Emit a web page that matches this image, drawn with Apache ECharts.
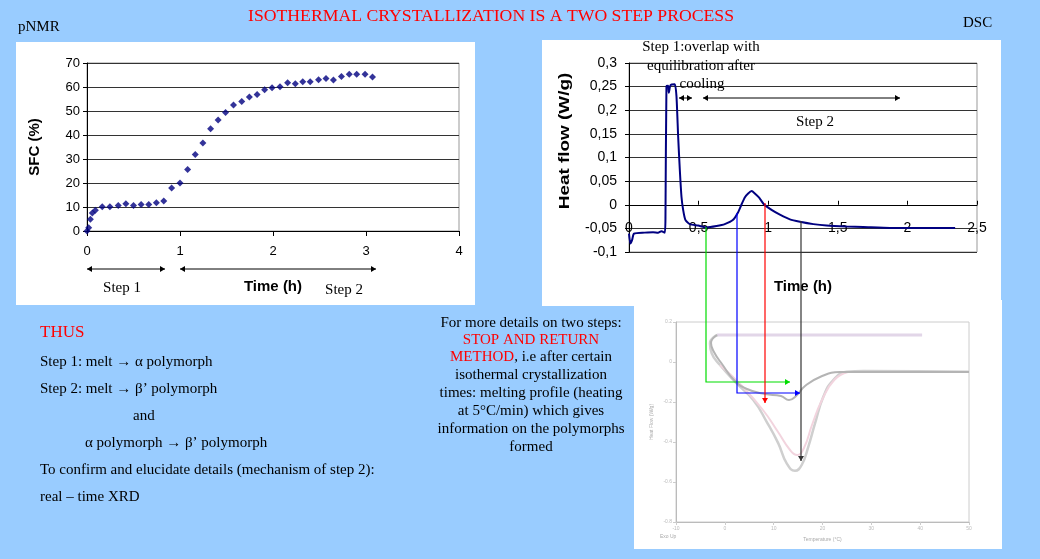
<!DOCTYPE html>
<html>
<head>
<meta charset="utf-8">
<script src="https://cdn.jsdelivr.net/npm/echarts@6/dist/echarts.min.js"></script>
<style>
  html, body { margin: 0; padding: 0; background: #99ccff; }
  #main { width: 1040px; height: 559px; }
</style>
</head>
<body>
<div id="main"></div>
<script>
// pNMR: solid fat content vs time
const sfcTime = [0, 0.018, 0.036, 0.057, 0.09, 0.164, 0.246, 0.336, 0.418, 0.5, 0.582, 0.664, 0.746, 0.825,
    0.91, 1.0, 1.082, 1.164, 1.246, 1.329, 1.41, 1.49, 1.575, 1.664, 1.746, 1.829, 1.91, 1.99, 2.075,
    2.157, 2.24, 2.32, 2.40, 2.49, 2.57, 2.65, 2.736, 2.82, 2.9, 2.99, 3.07];
const sfcValue = [0, 1.4, 4.9, 7.5, 8.6, 10.1, 10.1, 10.6, 11.4, 10.6, 11, 11, 11.8, 12.5,
    17.9, 20, 25.6, 31.9, 36.7, 42.6, 46.3, 49.4, 52.5, 54, 55.8, 56.9, 58.9, 59.7, 60.1,
    61.8, 61.4, 62.2, 62.2, 63, 63.5, 62.9, 64.4, 65.3, 65.3, 65.3, 64.2];

// DSC isothermal: heat flow vs time
const dscTime = [0, 0.01, 0.022, 0.036, 0.113, 0.173, 0.209, 0.233, 0.257, 0.262, 0.269, 0.281, 0.286, 0.298,
    0.329, 0.341, 0.353, 0.365, 0.377, 0.389, 0.405, 0.437, 0.497, 0.557, 0.629, 0.688, 0.748, 0.784,
    0.809, 0.833, 0.856, 0.881, 0.904, 0.935, 0.969, 1.024, 1.084, 1.156, 1.228, 1.324, 1.42, 1.564,
    1.683, 1.875, 2.115, 2.343];
const dscHeat = [-0.061, -0.082, -0.075, -0.061, -0.059, -0.058, -0.059, -0.056, -0.059, -0.025, 0.251, 0.252, 0.237, 0.253,
    0.255, 0.23, 0.145, 0.074, 0.017, -0.011, -0.032, -0.041, -0.044, -0.048, -0.045, -0.041, -0.032, -0.016,
    0.001, 0.016, 0.024, 0.029, 0.024, 0.015, 0.001, -0.011, -0.021, -0.031, -0.036, -0.041, -0.044, -0.046,
    -0.047, -0.049, -0.049, -0.049];

// melting profiles (faded inset)
const meltTempA = [-1.54, -3.04, -2.69, -0.99, 2.43, 5.83, 8.57, 10.95, 12.67, 14.37, 15.74, 17.09, 18.47, 20.17, 22.21, 24.96, 28.36, 50];
const meltHeatA = [0.135, 0.094, 0.044, -0.015, -0.107, -0.19, -0.299, -0.407, -0.507, -0.544, -0.515, -0.424, -0.307, -0.174, -0.09, -0.049, -0.045, -0.049];
const meltTempB = [-1.6, -2.83, -2.22, -0.58, 1.88, 4.54, 8.23, 11.5, 13.14, 14.58, 16.42, 19.49, 23.59, 50];
const meltHeatB = [0.135, 0.095, 0.05, -0.01, -0.09, -0.135, -0.16, -0.17, -0.19, -0.17, -0.12, -0.075, -0.05, -0.05];
const meltTempC = [-0.99, 3.1, 7.8, 10.9, 13.35, 14.8, 16.2, 17.85, 19.9, 22.4, 25.2];
const meltHeatC = [-0.015, -0.11, -0.24, -0.35, -0.44, -0.465, -0.43, -0.315, -0.19, -0.09, -0.05];
const coolTemp = [-1.6, 40.4];
const coolHeat = [0.135, 0.135];

const zip = (a, b) => a.map((v, i) => [v, b[i]]);
const comma = v => String(v).replace('.', ',');

const serif = '"Liberation Serif", "DejaVu Serif", serif';
const sans = '"Liberation Sans", Arial, sans-serif';

function head(x, y, dir, color) {
    const s = 5, w = 3;
    let pts;
    if (dir === 'right') pts = [[x, y], [x - s, y - w], [x - s, y + w]];
    else if (dir === 'left') pts = [[x, y], [x + s, y - w], [x + s, y + w]];
    else pts = [[x, y], [x - w, y - s], [x + w, y - s]];
    return { type: 'polygon', z: 50, shape: { points: pts }, style: { fill: color } };
}
function dblArrow(x1, x2, y, color) {
    return [
        { type: 'line', z: 50, shape: { x1: x1, y1: y, x2: x2, y2: y }, style: { stroke: color, lineWidth: 1 } },
        head(x1, y, 'left', color), head(x2, y, 'right', color)
    ];
}
function connector(pts, color, dir) {
    const last = pts[pts.length - 1];
    return [
        { type: 'polyline', z: 50, shape: { points: pts }, style: { stroke: color, lineWidth: 1.2, fill: null } },
        head(last[0], last[1], dir, color)
    ];
}
function txt(text, x, y, opts) {
    opts = opts || {};
    return {
        type: 'text', z: 60, x: x, y: y,
        style: {
            text: text, font: (opts.size || 15) + 'px ' + (opts.family || serif),
            fill: opts.color || '#000', textAlign: opts.align || 'left', textVerticalAlign: 'middle',
            rich: opts.rich
        }
    };
}

const graphics = [
    // white panels
    { type: 'rect', z: -10, shape: { x: 16, y: 42, width: 459, height: 263 }, style: { fill: '#fff' } },
    { type: 'rect', z: -10, shape: { x: 542, y: 40, width: 459, height: 266 }, style: { fill: '#fff' } },
    { type: 'rect', z: -10, shape: { x: 634, y: 300, width: 368, height: 249 }, style: { fill: '#fff' } },

    txt('ISOTHERMAL CRYSTALLIZATION IS A TWO STEP PROCESS', 491, 16, { size: 17.7, color: '#ff0000', align: 'center' }),
    txt('pNMR', 18, 27),
    txt('DSC', 963, 23),

    // pNMR step labels
    txt('Step 1', 122, 288, { align: 'center' }),
    txt('Step 2', 344, 290, { align: 'center' }),

    // DSC annotations
    txt('Step 1:overlap with', 701, 47, { align: 'center' }),
    txt('equilibration after', 701, 66, { align: 'center' }),
    txt('cooling', 702, 84, { align: 'center' }),
    txt('Step 2', 815, 122, { align: 'center' }),
    {
        type: 'text', z: 60, x: 565, y: 141, rotation: Math.PI / 2, scaleX: 1.35,
        style: { text: 'Heat flow (W/g)', font: 'bold 14px ' + sans, fill: '#000',
            textAlign: 'center', textVerticalAlign: 'middle' }
    },

    // left text block
    txt('THUS', 40, 333, { size: 17, color: '#ff0000' }),
    txt('Step 1: melt \u2192 \u03b1 polymorph', 40, 362),
    txt('Step 2: melt \u2192 \u03b2\u2019 polymorph', 40, 389),
    txt('and', 133, 416),
    txt('\u03b1 polymorph \u2192 \u03b2\u2019 polymorph', 85, 443),
    txt('To confirm and elucidate details (mechanism of step 2):', 40, 470),
    txt('real \u2013 time XRD', 40, 497),

    // middle text block
    txt('For more details on two steps:', 531, 323, { align: 'center' }),
    txt('STOP AND RETURN', 531, 340, { align: 'center', color: '#ff0000' }),
    txt('{r|METHOD}, i.e after certain', 531, 357, { align: 'center',
        rich: { r: { fill: '#ff0000', font: '15px ' + serif } } }),
    txt('isothermal crystallization', 531, 375, { align: 'center' }),
    txt('times: melting profile (heating', 531, 393, { align: 'center' }),
    txt('at 5\u00b0C/min) which gives', 531, 411, { align: 'center' }),
    txt('information on the polymorphs', 531, 429, { align: 'center' }),
    txt('formed', 531, 447, { align: 'center' }),

    txt('Exo Up', 660, 537, { size: 5, color: '#aaa', family: sans })
]
    .concat(dblArrow(87, 165, 269, '#000'))
    .concat(dblArrow(180, 376, 269, '#000'))
    .concat(dblArrow(679, 692, 98, '#000'))
    .concat(dblArrow(703, 900, 98, '#000'))
    .concat(connector([[706, 227], [706, 382], [790, 382]], '#00dd00', 'right'))
    .concat(connector([[737, 213], [737, 393], [800, 393]], '#0000ff', 'right'))
    .concat(connector([[765, 203], [765, 403]], '#ff0000', 'down'))
    .concat(connector([[801, 221], [801, 461]], '#333', 'down'));

const chart = echarts.init(document.getElementById('main'));
chart.setOption({
    backgroundColor: '#99ccff',
    animation: false,
    textStyle: { fontFamily: sans },
    graphic: graphics,
    grid: [
        { left: 87, top: 63, width: 372, height: 168, show: true, borderColor: '#999', borderWidth: 1 },
        { left: 629, top: 63, width: 348, height: 189, show: true, borderColor: '#999', borderWidth: 1 },
        { left: 676, top: 322, width: 293, height: 200, show: true, borderColor: '#ccc', borderWidth: 1 }
    ],
    xAxis: [
        {
            gridIndex: 0, type: 'value', min: 0, max: 4, interval: 1,
            name: 'Time (h)', nameLocation: 'middle', nameGap: 48,
            nameTextStyle: { fontSize: 15, fontWeight: 'bold', color: '#000' },
            axisLine: { onZero: false, lineStyle: { color: '#000' } },
            axisTick: { show: true, length: 5, lineStyle: { color: '#000' } },
            axisLabel: { fontSize: 13, color: '#000', margin: 14 },
            splitLine: { show: false }
        },
        {
            // axis drawn on the zero line of the heat-flow scale
            gridIndex: 1, type: 'value', min: 0, max: 2.5, interval: 0.5, offset: -47.25,
            name: 'Time (h)', nameLocation: 'middle', nameGap: 75,
            nameTextStyle: { fontSize: 15, fontWeight: 'bold', color: '#000' },
            axisLine: { onZero: false, lineStyle: { color: '#000' } },
            axisTick: { show: true, inside: true, length: 4, lineStyle: { color: '#000' } },
            axisLabel: { fontSize: 14, color: '#000', margin: 16, formatter: comma },
            splitLine: { show: false }
        },
        {
            gridIndex: 2, type: 'value', min: -10, max: 50, interval: 10,
            name: 'Temperature (\u00b0C)', nameLocation: 'middle', nameGap: 15,
            nameTextStyle: { fontSize: 5, color: '#aaa' },
            axisLine: { onZero: false, lineStyle: { color: '#bbb' } },
            axisTick: { show: true, length: 3, lineStyle: { color: '#ccc' } },
            axisLabel: { fontSize: 5, color: '#bbb', margin: 4 },
            splitLine: { show: false }
        }
    ],
    yAxis: [
        {
            gridIndex: 0, type: 'value', min: 0, max: 70, interval: 10,
            name: 'SFC (%)', nameLocation: 'middle', nameGap: 45,
            nameTextStyle: { fontSize: 15, fontWeight: 'bold', color: '#000' },
            axisLine: { show: true, onZero: false, lineStyle: { color: '#000' } },
            axisTick: { show: true, length: 4, lineStyle: { color: '#000' } },
            axisLabel: { fontSize: 13, color: '#000', margin: 7 },
            splitLine: { lineStyle: { color: '#333' } }
        },
        {
            gridIndex: 1, type: 'value', min: -0.1, max: 0.3, interval: 0.05,
            axisLine: { show: true, onZero: false, lineStyle: { color: '#000' } },
            axisTick: { show: true, length: 4, lineStyle: { color: '#000' } },
            axisLabel: { fontSize: 14, color: '#000', margin: 12, formatter: comma },
            splitLine: { lineStyle: { color: '#333' } }
        },
        {
            gridIndex: 2, type: 'value', min: -0.8, max: 0.2, interval: 0.2,
            name: 'Heat Flow (W/g)', nameLocation: 'middle', nameGap: 22,
            nameTextStyle: { fontSize: 5, color: '#aaa' },
            axisLine: { show: true, onZero: false, lineStyle: { color: '#bbb' } },
            axisTick: { show: true, length: 3, lineStyle: { color: '#ccc' } },
            axisLabel: { fontSize: 5, color: '#bbb', margin: 4 },
            splitLine: { show: false }
        }
    ],
    series: [
        {
            name: 'SFC', type: 'scatter', xAxisIndex: 0, yAxisIndex: 0,
            symbol: 'diamond', symbolSize: 7,
            itemStyle: { color: '#000080' },
            data: zip(sfcTime, sfcValue)
        },
        {
            name: 'Heat flow', type: 'line', xAxisIndex: 1, yAxisIndex: 1,
            showSymbol: false, smooth: 0.2,
            lineStyle: { color: '#000080', width: 2 },
            data: zip(dscTime, dscHeat)
        },
        {
            name: 'cooling', type: 'line', xAxisIndex: 2, yAxisIndex: 2, showSymbol: false,
            lineStyle: { color: '#e2d6e8', width: 3 }, data: zip(coolTemp, coolHeat)
        },
        {
            name: 'melt A', type: 'line', xAxisIndex: 2, yAxisIndex: 2, showSymbol: false, smooth: true,
            lineStyle: { color: '#cfcfcf', width: 2.5 }, data: zip(meltTempA, meltHeatA)
        },
        {
            name: 'melt C', type: 'line', xAxisIndex: 2, yAxisIndex: 2, showSymbol: false, smooth: true,
            lineStyle: { color: '#f2d4de', width: 2 }, data: zip(meltTempC, meltHeatC)
        },
        {
            name: 'melt B', type: 'line', xAxisIndex: 2, yAxisIndex: 2, showSymbol: false, smooth: true,
            lineStyle: { color: '#b4b4b4', width: 2 }, data: zip(meltTempB, meltHeatB)
        }
    ]
});
</script>
</body>
</html>
